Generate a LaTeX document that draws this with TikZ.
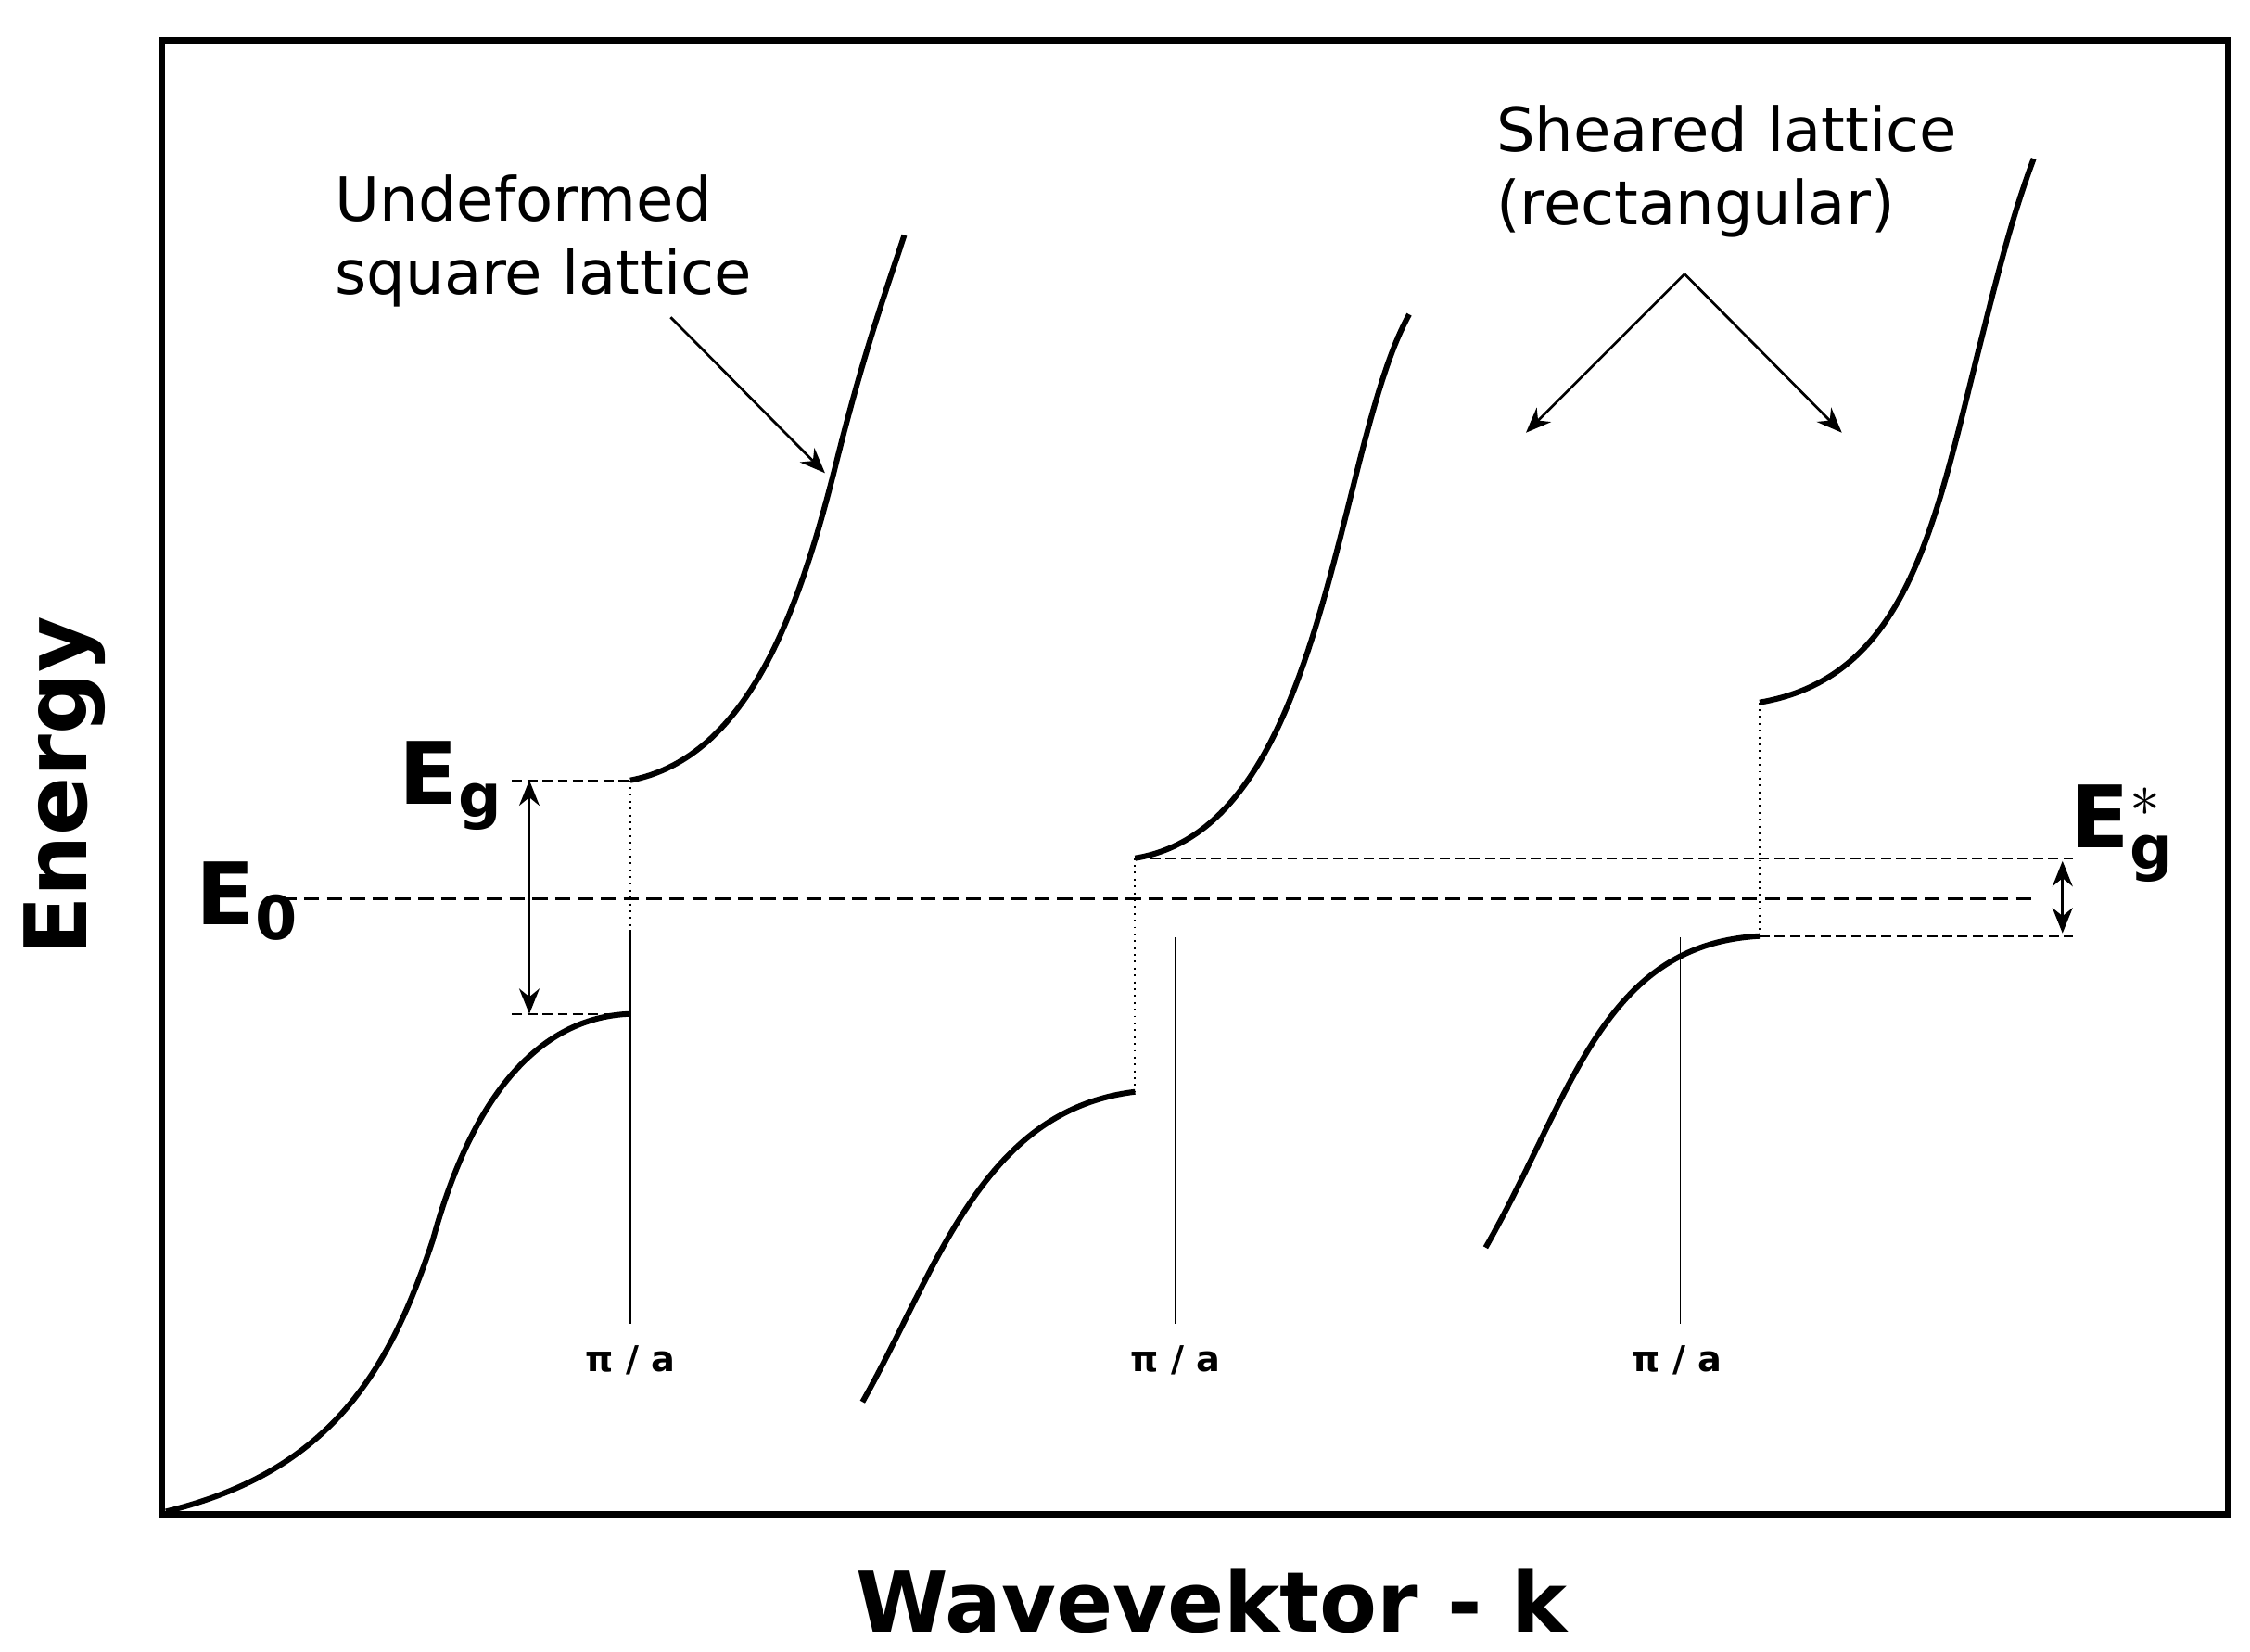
\documentclass[tikz,border=0pt]{standalone}
\usepackage{fontspec}
\setmainfont{DejaVu Sans}
\usetikzlibrary{arrows.meta}
\begin{document}
\begin{tikzpicture}[x=0.01cm,y=-0.01cm,
  band/.style={line width=1.1pt},
  thin/.style={line width=0.35pt},
  gap/.style={line width=0.35pt,densely dotted},
  lvl/.style={line width=0.35pt,dash pattern=on 2pt off 1pt},
  lab/.style={font=\fontsize{12}{14.5}\selectfont,align=left},
  big/.style={font=\bfseries\fontsize{17}{20}\selectfont},
  pia/.style={font=\bfseries\fontsize{7}{9}\selectfont},
  arr/.style={line width=0.5pt,-{Stealth[length=5pt,width=4pt]}},
  darr/.style={line width=0.5pt,{Stealth[length=5pt,width=4pt]}-{Stealth[length=5pt,width=4pt]}}]
\useasboundingbox (0,0) rectangle (1560,1145);
\draw[line width=1.3pt] (112,28) rectangle (1545,1050);
% band curves
\draw[band] (115,1048) .. controls (230,1020) and (270,950) .. (300,860) .. controls (330,750) and (380,705) .. (437,703);
\draw[band] (437,541) .. controls (520,525) and (555,420) .. (580,320) .. controls (600,240) and (615,200) .. (627,163);
\draw[band] (598,972) .. controls (650,880) and (680,770) .. (787,757);
\draw[band] (787,595) .. controls (880,580) and (910,450) .. (940,330) .. controls (955,270) and (965,240) .. (977,218);
\draw[band] (1030,865) .. controls (1090,760) and (1110,655) .. (1220,649);
\draw[band] (1220,487) .. controls (1320,470) and (1340,370) .. (1370,250) .. controls (1385,190) and (1395,150) .. (1410,110);
% gaps
\draw[gap] (437,541) -- (437,703);
\draw[gap] (787,595) -- (787,757);
\draw[gap] (1220,487) -- (1220,649);
% zone boundaries
\coordinate (z1t) at (437,645); \coordinate (z1b) at (437,918);
\coordinate (z2t) at (815,650); \coordinate (z2b) at (815,918);
\coordinate (z3t) at (1165,650); \coordinate (z3b) at (1165,918);
\draw[thin] (z1t) -- (z1b); \draw[thin] (z2t) -- (z2b); \draw[thin] (z3t) -- (z3b);
\node[pia] (p1) at (437,943) {π / a};
\node[pia] (p2) at (815,943) {π / a};
\node[pia] (p3) at (1163,943) {π / a};
% E0 level
\draw[line width=0.6pt,dash pattern=on 3pt off 1.5pt] (195,623) -- (1410,623);
\node[big] (e0) at (172,625) {E$_{\mathbf 0}$};
% Eg
\draw[lvl] (355,541) -- (437,541);
\draw[lvl] (355,703) -- (437,703);
\coordinate (ga) at (367,541); \coordinate (gb) at (367,703);
\draw[darr] (ga) -- (gb);
\node[big] (eg) at (313,545) {E$_{\mathbf g}$};
% Eg*
\draw[lvl] (787,595) -- (1437,595);
\draw[lvl] (1220,649) -- (1437,649);
\coordinate (sa) at (1430,597); \coordinate (sb) at (1430,647);
\draw[darr] (sa) -- (sb);
\node[big] (egs) at (1472,578) {E$_{\mathbf g}^{*}$};
% labels
\node[lab,anchor=west] (und) at (220,167) {Undeformed\\square lattice};
\coordinate (ua) at (465,220); \coordinate (ub) at (572,328);
\draw[arr] (ua) -- (ub);
\node[lab,anchor=west] (sh) at (1025,119) {Sheared lattice\\(rectangular)};
\coordinate (sc) at (1168,190);
\coordinate (sl) at (1058,300); \coordinate (sr) at (1277,300);
\draw[arr] (sc) -- (sl); \draw[arr] (sc) -- (sr);
\node[big,rotate=90] (en) at (45,545) {Energy};
\node[big,font=\bfseries\fontsize{16.5}{20}\selectfont] (wk) at (840,1110) {Wavevektor - k};
\end{tikzpicture}
\end{document}
